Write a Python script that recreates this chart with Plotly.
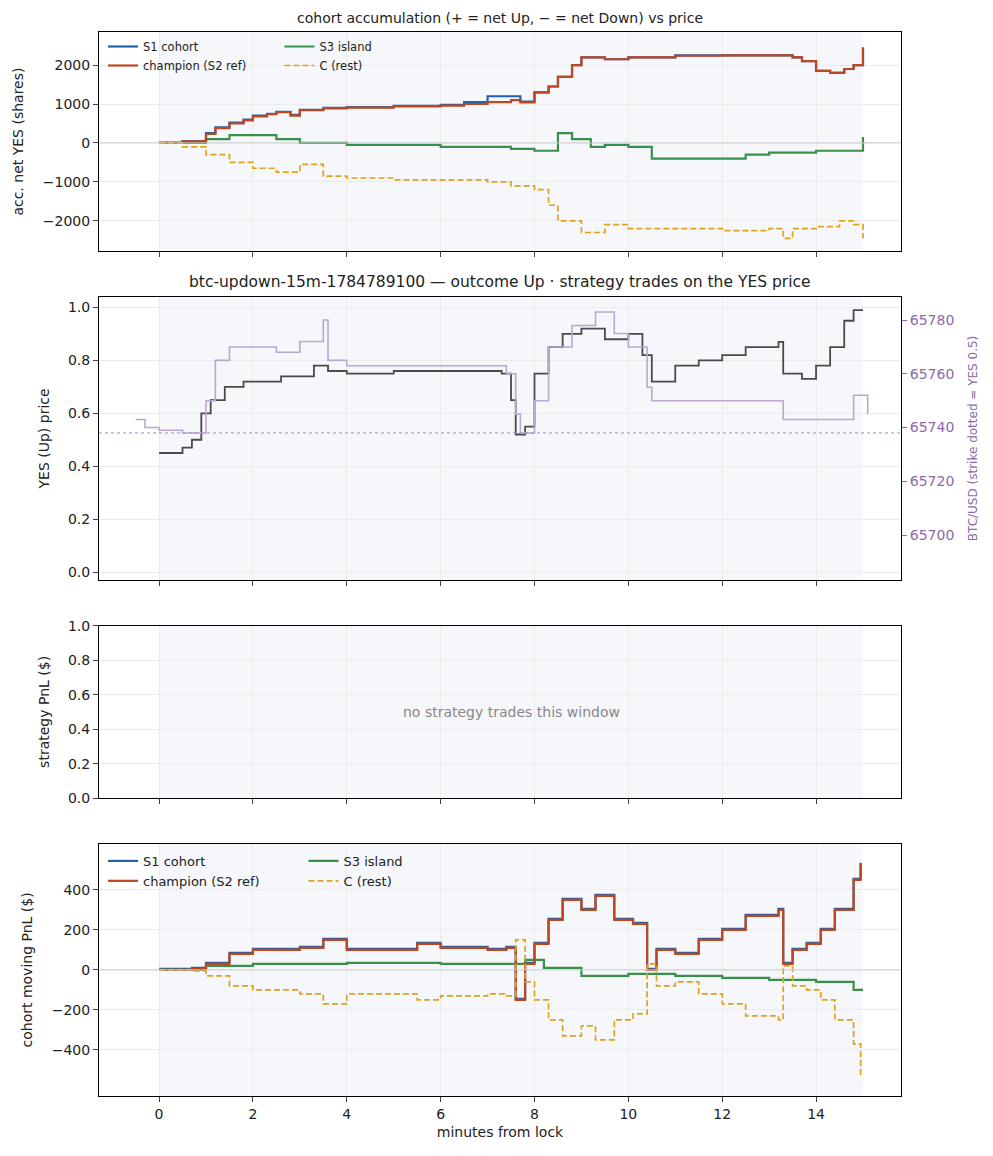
import plotly.graph_objects as go

# panel 1: accumulated net YES (shares)
acc_t = [0, 0.5, 1, 1.2, 1.5, 1.8, 2, 2.3, 2.5, 2.8, 3, 3.5, 4, 5, 6, 6.5, 7, 7.5, 7.7, 8, 8.3, 8.5, 8.8, 9, 9.5, 10, 11, 12, 13, 13.5, 13.7, 14, 14.3, 14.6, 14.8, 15]
acc_s1 = [0, 50, 250, 400, 520, 600, 700, 750, 800, 720, 850, 900, 920, 950, 980, 1050, 1200, 1200, 1060, 1300, 1450, 1700, 2000, 2200, 2150, 2200, 2250, 2250, 2250, 2200, 2100, 1850, 1800, 1900, 2000, 2450]
acc_champ = [0, 40, 230, 380, 500, 580, 680, 740, 790, 700, 840, 890, 910, 940, 960, 1000, 1050, 1100, 1040, 1300, 1450, 1700, 2000, 2200, 2150, 2200, 2240, 2250, 2250, 2200, 2100, 1850, 1800, 1900, 2000, 2450]
s3_t = [0, 1, 1.5, 2, 2.5, 3, 4, 5, 6, 7, 7.5, 8, 8.3, 8.5, 8.8, 9.2, 9.5, 10, 10.4, 10.5, 12, 12.5, 13, 14, 14.9, 15]
acc_s3 = [0, 100, 200, 200, 100, 0, -50, -50, -100, -100, -150, -200, -200, 250, 100, -100, -50, -100, -100, -400, -400, -300, -250, -200, -200, 150]
c_t = [0, 0.5, 1, 1.5, 2, 2.5, 3, 3.5, 4, 5, 6, 7, 7.5, 8, 8.3, 8.5, 9, 9.5, 10, 11, 12, 13, 13.3, 13.5, 14, 14.5, 14.8, 15]
acc_c = [0, -100, -300, -500, -650, -750, -550, -850, -900, -950, -950, -1000, -1100, -1200, -1600, -2000, -2300, -2100, -2200, -2200, -2250, -2200, -2450, -2200, -2150, -2000, -2100, -2450]

# panel 2: YES price and BTC/USD
yes_t = [0, 0.5, 0.7, 0.9, 1.1, 1.4, 1.8, 2.2, 2.6, 3, 3.3, 3.6, 4, 5, 6, 7, 7.3, 7.5, 7.6, 7.8, 8, 8.3, 8.6, 9, 9.5, 10, 10.3, 10.5, 11, 11.5, 12, 12.5, 13.2, 13.3, 13.7, 14, 14.3, 14.6, 14.8, 15]
yes_px = [0.45, 0.47, 0.5, 0.6, 0.65, 0.7, 0.72, 0.72, 0.74, 0.74, 0.78, 0.76, 0.75, 0.76, 0.76, 0.76, 0.75, 0.65, 0.52, 0.55, 0.75, 0.85, 0.9, 0.92, 0.88, 0.9, 0.82, 0.72, 0.78, 0.8, 0.82, 0.85, 0.87, 0.75, 0.73, 0.78, 0.85, 0.95, 0.99, 0.99]
btc_t = [-0.5, -0.3, 0, 0.5, 1, 1.2, 1.5, 2, 2.5, 3, 3.5, 3.6, 4, 6, 7, 7.4, 7.6, 7.7, 8, 8.3, 8.8, 9.3, 9.7, 10, 10.4, 10.5, 13.2, 13.3, 14.5, 14.8, 15.1]
btc_px = [65743, 65740, 65739, 65738, 65750, 65765, 65770, 65770, 65768, 65772, 65780, 65765, 65763, 65763, 65763, 65760, 65745, 65738, 65750, 65770, 65778, 65783, 65775, 65770, 65755, 65750, 65750, 65743, 65743, 65752, 65745]
strike = 65738

# panel 4: cohort moving PnL
pnl_t = [0, 0.7, 1, 1.5, 2, 3, 3.5, 4, 5, 5.5, 6, 7, 7.4, 7.6, 7.8, 8, 8.3, 8.6, 9, 9.3, 9.7, 10.1, 10.4, 10.6, 11, 11.5, 12, 12.5, 13.2, 13.3, 13.5, 13.8, 14.1, 14.4, 14.8, 14.95]
pnl_champ = [0, 5, 30, 80, 100, 110, 150, 100, 100, 130, 110, 100, 110, -150, 30, 130, 250, 350, 300, 370, 250, 230, 0, 100, 80, 150, 200, 270, 300, 30, 100, 130, 200, 300, 450, 530]
pnl_c = [0, -5, -30, -80, -100, -120, -170, -120, -120, -150, -130, -120, -130, 150, -60, -150, -250, -330, -280, -350, -250, -220, 30, -80, -60, -120, -170, -230, -250, 20, -80, -100, -150, -250, -370, -530]
s3p_t = [0, 1, 2, 4, 6, 7.5, 7.8, 8.2, 9, 10, 11, 12, 13, 14, 14.8, 15]
pnl_s3 = [0, 20, 30, 35, 30, 30, 50, 10, -30, -20, -30, -40, -50, -60, -100, -100]

BLUE, RED, GREEN, GOLD = "#2563a8", "#c0461f", "#3a8f4a", "#e0a31c"
FONT = "DejaVu Sans"
DASH = "6px,3px"

fig = go.Figure()

def cohort(xs, ys, name, color, xa, ya, leg, dash=None, w=2.2):
    fig.add_trace(go.Scatter(x=xs, y=ys, name=name, mode="lines", line_shape="hv",
                             line=dict(color=color, width=w, dash=dash), xaxis=xa, yaxis=ya, legend=leg))

cohort(acc_t, acc_s1, "S1 cohort", BLUE, "x", "y", "legend")
cohort(s3_t, acc_s3, "S3 island", GREEN, "x", "y", "legend2")
cohort(acc_t, acc_champ, "champion (S2 ref)", RED, "x", "y", "legend")
cohort(c_t, acc_c, "C (rest)", GOLD, "x", "y", "legend2", dash=DASH, w=1.7)

fig.add_trace(go.Scatter(x=btc_t, y=btc_px, mode="lines", line_shape="hv", line=dict(color="#b9a8d0", width=1.6),
                         xaxis="x2", yaxis="y5", showlegend=False))
fig.add_trace(go.Scatter(x=yes_t, y=yes_px, mode="lines", line_shape="hv", line=dict(color="#4a4a4a", width=1.8),
                         xaxis="x2", yaxis="y2", showlegend=False))

cohort(pnl_t, [v + 5 for v in pnl_champ], "S1 cohort", BLUE, "x4", "y4", "legend3")
cohort(s3p_t, pnl_s3, "S3 island", GREEN, "x4", "y4", "legend4")
cohort(pnl_t, pnl_champ, "champion (S2 ref)", RED, "x4", "y4", "legend3")
cohort(pnl_t, pnl_c, "C (rest)", GOLD, "x4", "y4", "legend4", dash=DASH, w=1.7)

doms = [[0.794, 1.0], [0.485, 0.751], [0.280, 0.442], [0.0, 0.237]]
xr = [-1.28, 15.81]
ax = dict(showline=True, mirror=True, linecolor="black", ticks="outside", gridcolor="#ebebeb",
          zeroline=False, automargin=False, tickfont=dict(size=14, color="#222"))
lay = {}
for i, d in enumerate(doms, start=1):
    s = "" if i == 1 else str(i)
    lay["xaxis" + s] = dict(ax, domain=[0, 1], anchor="y" + s, range=xr, tickvals=[0, 2, 4, 6, 8, 10, 12, 14],
                            showticklabels=(i == 4), matches=None if i == 1 else "x")
    lay["yaxis" + s] = dict(ax, domain=d, anchor="x" + s)
    fig.add_shape(type="rect", x0=0, x1=15, y0=0, y1=1, xref="x" + s, yref="y" + s + " domain",
                  fillcolor="#eef2f9", opacity=0.6, line_width=0, layer="below")

lay["yaxis"].update(range=[-2780, 2850], tickvals=[-2000, -1000, 0, 1000, 2000],
                    title=dict(text="acc. net YES (shares)", font=dict(size=14)))
lay["yaxis2"].update(range=[-0.03, 1.04], tickvals=[0, 0.2, 0.4, 0.6, 0.8, 1.0], tickformat=".1f",
                     title=dict(text="YES (Up) price", font=dict(size=14)))
lay["yaxis5"] = dict(overlaying="y2", side="right", anchor="x2", range=[65683.3, 65788.6], automargin=False,
                     tickvals=[65700, 65720, 65740, 65760, 65780], tickformat="d", showgrid=False, ticks="outside",
                     tickfont=dict(size=14, color="#8a6aa6"), linecolor="black", tickcolor="#8a6aa6",
                     title=dict(text="BTC/USD (strike dotted = YES 0.5)", font=dict(size=12, color="#8a6aa6")))
lay["yaxis3"].update(range=[0, 1], tickvals=[0, 0.2, 0.4, 0.6, 0.8, 1.0], tickformat=".1f",
                     title=dict(text="strategy PnL ($)", font=dict(size=14)))
lay["yaxis4"].update(range=[-630, 630], tickvals=[-400, -200, 0, 200, 400],
                     title=dict(text="cohort moving PnL ($)", font=dict(size=14)))
lay["xaxis4"]["title"] = dict(text="minutes from lock", font=dict(size=14), standoff=6)

fig.add_shape(type="line", x0=0, x1=1, xref="x domain", y0=0, y1=0, yref="y", line=dict(color="#cccccc", width=1))
fig.add_shape(type="line", x0=0, x1=1, xref="x4 domain", y0=0, y1=0, yref="y4", line=dict(color="#cccccc", width=1))
fig.add_shape(type="line", x0=0, x1=1, xref="x2 domain", y0=strike, y1=strike, yref="y5",
              line=dict(color="#a08cc0", width=1, dash="dot"))

fig.add_annotation(text="cohort accumulation (+ = net Up, \u2212 = net Down) vs price", x=0.5, y=1.0, xref="paper",
                   yref="paper", yshift=4, yanchor="bottom", showarrow=False, font=dict(size=14))
fig.add_annotation(text="btc-updown-15m-1784789100 \u2014 outcome Up \u00b7 strategy trades on the YES price", x=0.5,
                   y=0.751, xref="paper", yref="paper", yshift=4, yanchor="bottom", showarrow=False, font=dict(size=15.5))
fig.add_annotation(text="no strategy trades this window", x=7.5, y=0.5, xref="x3", yref="y3", showarrow=False,
                   font=dict(size=14, color="#888888"))

leg = dict(xanchor="left", yanchor="top", bgcolor="rgba(0,0,0,0)", tracegroupgap=0, itemwidth=30)
fig.update_layout(
    **lay,
    legend=dict(leg, x=0.005, y=1.0, font=dict(size=11.5)),
    legend2=dict(leg, x=0.225, y=1.0, font=dict(size=11.5)),
    legend3=dict(leg, x=0.005, y=0.235, font=dict(size=13)),
    legend4=dict(leg, x=0.255, y=0.235, font=dict(size=13)),
    width=993, height=1156, margin=dict(l=91, r=100, t=24, b=68),
    plot_bgcolor="white", paper_bgcolor="white", font=dict(family=FONT, color="#222"),
)
fig.write_html("out.html")
